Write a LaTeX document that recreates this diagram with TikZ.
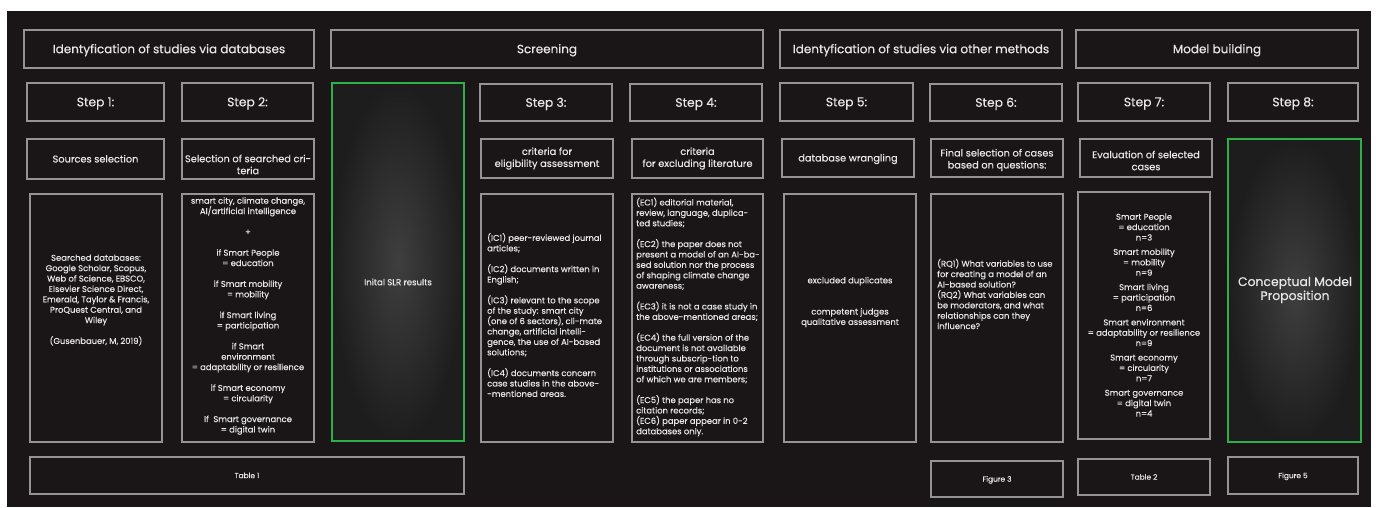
\documentclass[tikz,border=0pt]{standalone}
\usepackage{fontspec}
\setmainfont{Poppins}[FakeBold=0.35]
\definecolor{bgdark}{RGB}{26,22,23}
\definecolor{boxgray}{RGB}{150,147,147}
\definecolor{txtlight}{RGB}{232,230,230}
\definecolor{greenedge}{RGB}{45,176,72}
\definecolor{glowin}{RGB}{64,63,63}
\definecolor{glowout}{RGB}{30,29,30}
\begin{document}
\begin{tikzpicture}[x=1pt,y=-1pt,
  box/.style={draw=boxgray, line width=1.2pt, inner sep=0pt, text=txtlight, align=center},
  greenbox/.style={draw=greenedge, line width=1.4pt, inner sep=0pt,
    shade, inner color=glowin, outer color=glowout},
  sz/.style 2 args={minimum width=#1pt, minimum height=#2pt},
  headfont/.style={font=\fontsize{12}{14}\selectfont, text height=8.4pt, text depth=0pt},
  stepfont/.style={font=\fontsize{12.3}{14}\selectfont, text height=8.6pt, text depth=0pt},
  titlefont/.style={font=\fontsize{9.8}{12}\selectfont},
  onetitle/.style={titlefont, text height=6.9pt, text depth=0pt},
  smalltxt/.style={text=txtlight, inner sep=0pt, font=\fontsize{8.4}{10.4}\selectfont},
  titletxt/.style={text=txtlight, inner sep=0pt, align=center, titlefont},
  tinyfont/.style={font=\fontsize{7.4}{9}\selectfont, text height=5.3pt, text depth=0pt}
]
\useasboundingbox (0,0) rectangle (1376,507);
\fill[bgdark] (7,11) rectangle (1371,507);

% headers
\node[box, headfont, sz={290}{38}] (h1) at (169,49) {Identyfication of studies via databases};
\node[box, headfont, sz={432}{38}] (h2) at (547,49) {Screening};
\node[box, headfont, sz={282}{38}] (h3) at (921,49) {Identyfication of studies via other methods};
\node[box, headfont, sz={282}{38}] (h4) at (1217,49) {Model building};

% steps
\node[box, stepfont, sz={137}{38}] (s1) at (95.5,102) {Step 1:};
\node[box, stepfont, sz={131}{38}] (s2) at (247.5,102) {Step 2:};
\node[greenbox, sz={132}{358}] (slr) at (398,262) {};
\node[box, stepfont, sz={132}{37}] (s3) at (546,102.5) {Step 3:};
\node[box, stepfont, sz={132}{37}] (s4) at (696,102.5) {Step 4:};
\node[box, stepfont, sz={133}{38}] (s5) at (846.5,102) {Step 5:};
\node[box, stepfont, sz={132}{37}] (s6) at (996,102.5) {Step 6:};
\node[box, stepfont, sz={132}{38}] (s7) at (1144,102) {Step 7:};
\node[box, stepfont, sz={130}{38}] (s8) at (1293,102) {Step 8:};
\node[smalltxt, font=\fontsize{8.6}{10.4}\selectfont] (slrtxt) at (398,282) {Inital SLR results};

% row 3 titles
\node[box, onetitle, sz={137}{40}] (t1) at (95.5,159) {Sources selection};
\node[box, sz={132}{40}] (t2) at (248,159) {};
\node[titletxt] (t2txt) at (248,164.5) {Selection of searched cri-\\teria};
\node[box, sz={132}{39}] (t3) at (547,158.5) {};
\node[titletxt] (t3txt) at (547,158.5) {criteria for\\eligibility assessment};
\node[box, sz={131}{39}] (t4) at (697.5,158.5) {};
\node[titletxt] (t4txt) at (697.5,158.5) {criteria\\for excluding literature};
\node[box, onetitle, sz={132}{38}] (t5) at (848,158) {database wrangling};
\node[box, sz={132}{38}] (t6) at (997,158) {};
\node[titletxt] (t6txt) at (997,160) {Final selection of cases\\based on questions:};
\node[box, sz={132}{38}] (t7) at (1146,158) {};
\node[titletxt] (t7txt) at (1146,160.5) {Evaluation of selected\\cases};
\node[greenbox, sz={133}{303}] (cmp) at (1294.5,290.5) {};
\node[smalltxt, align=center, font=\fontsize{12.4}{14}\selectfont] (cmptxt) at (1295,290) {Conceptual Model\\Proposition};

% row 4 content boxes
\node[box, sz={132}{248}] (b1) at (96,318) {};
\node[box, sz={132}{248}] (b2) at (248,318) {};
\node[box, sz={132}{248}] (b3) at (547,318) {};
\node[box, sz={131}{248}] (b4) at (697.5,318) {};
\node[box, sz={132}{248}] (b5) at (850,318) {};
\node[box, sz={132}{248}] (b6) at (997,318) {};
\node[box, sz={132}{247}] (b7) at (1144,315.5) {};

\node[smalltxt, align=center] (b1txt) at (96,300) {Searched databases:\\Google Scholar, Scopus,\\Web of Science, EBSCO,\\Elsevier Science Direct,\\Emerald, Taylor \& Francis,\\ProQuest Central, and\\Wiley\\[10.4pt](Gusenbauer, M, 2019)};

\node[smalltxt, align=center] (b2txt) at (248,316) {smart city, climate change,\\AI/artificial intelligence\\[10.4pt]+\\[10.4pt]if Smart People\\= education\\[10.4pt]if Smart mobility\\= mobility\\[10.4pt]if Smart living\\= participation\\[10.4pt]if Smart\\environment\\= adaptability or resilience\\[10.4pt]if Smart economy\\= circularity\\[10.4pt]If\ \ Smart governance\\= digital twin};

\node[smalltxt, align=left, anchor=west] (b3txt) at (487,315) {(IC1) peer-reviewed journal\\articles;\\[10.4pt](IC2) documents written in\\English;\\[10.4pt](IC3) relevant to the scope\\of the study: smart city\\(one of 6 sectors), cli-mate\\change, artificial intelli-\\gence, the use of AI-based\\solutions;\\[10.4pt](IC4) documents concern\\case studies in the above-\\-mentioned areas.};

\node[smalltxt, align=left, anchor=west] (b4txt) at (636,317) {(EC1) editorial material,\\review, language, duplica-\\ted studies;\\[10.4pt](EC2) the paper does not\\present a model of an AI-ba-\\sed solution nor the process\\of shaping climate change\\awareness;\\[10.4pt](EC3) it is not a case study in\\the above-mentioned areas;\\[10.4pt](EC4) the full version of the\\document is not available\\through subscrip-tion to\\institutions or associations\\of which we are members;\\[10.4pt](EC5) the paper has no\\citation records;\\(EC6) paper appear in 0-2\\databases only.};

\node[smalltxt, align=center] (b5txt) at (850,302) {excluded duplicates\\[20.8pt]competent judges\\qualitative assessment};

\node[smalltxt, align=left, anchor=west] (b6txt) at (937,294) {(RQ1) What variables to use\\for creating a model of an\\AI-based solution?\\(RQ2) What variables can\\be moderators, and what\\relationships can they\\influence?};

\node[smalltxt, align=center] (b7txt) at (1144,315) {Smart People\\= education\\n=3\\[4pt]Smart mobility\\= mobility\\n=9\\[4pt]Smart living\\= participation\\n=6\\[4pt]Smart environment\\= adaptability or resilience\\n=9\\[4pt]Smart economy\\= circularity\\n=7\\[4pt]Smart governance\\= digital twin\\n=4};

% bottom references
\node[box, tinyfont, sz={434}{37}] (f1) at (247,475.5) {Table 1};
\node[box, tinyfont, sz={132}{36}] (f2) at (997,479) {Figure 3};
\node[box, tinyfont, sz={132}{36}] (f3) at (1144,477) {Table 2};
\node[box, tinyfont, sz={130}{37}] (f4) at (1293,475.5) {Figure 5};
\end{tikzpicture}
\end{document}
